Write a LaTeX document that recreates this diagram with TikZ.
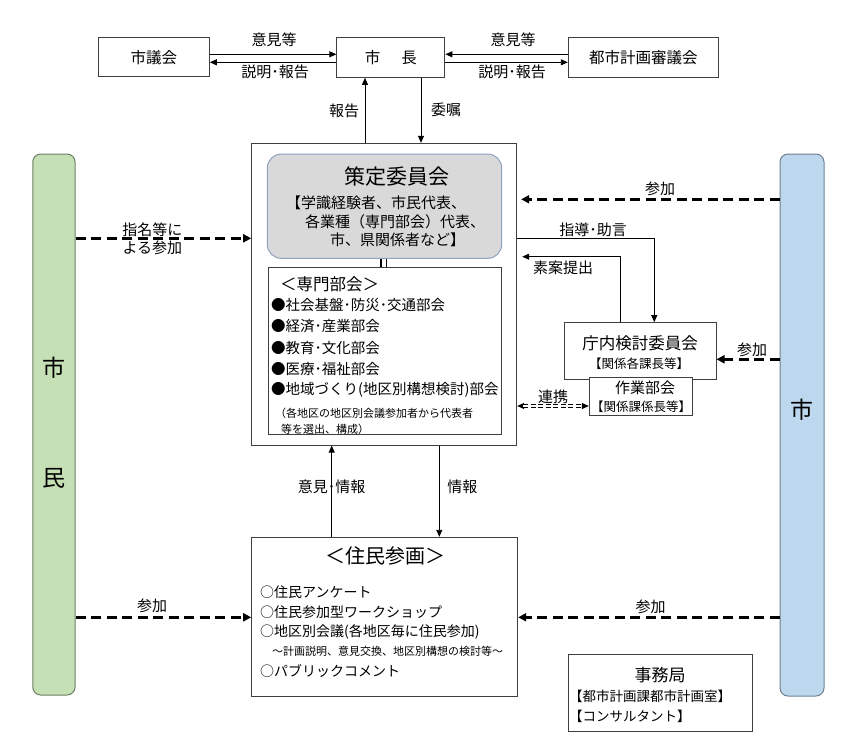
\documentclass[tikz,border=0pt]{standalone}
\usepackage{fontspec}
\setmainfont{Noto Sans CJK JP}
\usetikzlibrary{arrows.meta}
\definecolor{grnfill}{HTML}{C5E0B4}
\definecolor{grnline}{HTML}{6E7F66}
\definecolor{blufill}{HTML}{BDD7EE}
\definecolor{bluline}{HTML}{6F7F90}
\definecolor{gryfill}{HTML}{D9D9D9}
\definecolor{gryline}{HTML}{8FA3BF}
\definecolor{boxline}{HTML}{3F3F3F}
\begin{document}
\begin{tikzpicture}[x=1pt,y=-1pt,
  rbox/.style={draw=boxline, line width=1pt, inner sep=0pt, fill=white},
  lbl/.style={inner sep=0pt, font=\fontsize{15}{15}\selectfont},
  txt/.style={inner sep=0pt, anchor=west, font=\fontsize{14.5}{15}\selectfont},
  small/.style={inner sep=0pt, anchor=west, font=\fontsize{11}{12}\selectfont},
  arr/.style={-{Triangle[length=7pt,width=6pt]}, line width=0.9pt},
  darr/.style={-{Triangle[length=8pt,width=8pt]}, line width=2.6pt, dash pattern=on 10pt off 5.5pt}]
\useasboundingbox (0,0) rectangle (864,750);

% top boxes
\node[rbox, minimum width=111pt, minimum height=39pt, font=\fontsize{15.5}{16}\selectfont] (shigikai) at (153.8,57.2) {市議会};
\node[rbox, minimum width=108pt, minimum height=39.6pt, font=\fontsize{15.5}{16}\selectfont] (shicho) at (390.9,57.5) {市\hspace{21pt}長};
\node[rbox, minimum width=150pt, minimum height=39.6pt, font=\fontsize{15.5}{16}\selectfont] (toshi) at (643.3,57.5) {都市計画審議会};

\draw[arr] (shigikai.east |- 0,54.3) -- (shicho.west |- 0,54.3);
\draw[arr] (shicho.west |- 0,62.3) -- (shigikai.east |- 0,62.3);
\draw[arr] (toshi.west |- 0,54.3) -- (shicho.east |- 0,54.3);
\draw[arr] (shicho.east |- 0,62.3) -- (toshi.west |- 0,62.3);
\node[lbl] (l1) at (274,40) {意見等};
\node[lbl] (l2) at (275,71.7) {説明･報告};
\node[lbl] (l3) at (513,40) {意見等};
\node[lbl] (l4) at (512,71.7) {説明･報告};

% outer box
\node[rbox, minimum width=265pt, minimum height=301.7pt] (outer) at (384.2,294.2) {};
\draw[arr] (outer.north -| 365,0) -- (shicho.south -| 365,0);
\draw[arr] (shicho.south -| 421,0) -- (outer.north -| 421,0);
\node[lbl] (l5) at (344,111) {報告};
\node[lbl] (l6) at (446,110) {委嘱};

% gray committee box
\node[draw=gryline, line width=1pt, fill=gryfill, rounded corners=14pt, minimum width=234.4pt, minimum height=104.3pt, inner sep=0pt] (gray) at (384.5,206.2) {};
\node[inner sep=0pt, font=\fontsize{21}{22}\selectfont] (gt) at (396.7,177) {策定委員会};
\node[txt, font=\fontsize{15}{16}\selectfont] (g1) at (286,203) {【学識経験者、市民代表、};
\node[txt, font=\fontsize{15}{16}\selectfont] (g2) at (305,221.7) {各業種（専門部会）代表、};
\node[txt, font=\fontsize{15}{16}\selectfont] (g3) at (330,240) {市、県関係者など】};

% senmon bukai box
\node[rbox, minimum width=232.7pt, minimum height=166.6pt] (senmon) at (384.7,351) {};
\draw[line width=1.8pt] (gray.south -| 381,0) -- (senmon.north -| 381,0);
\draw[line width=1.8pt] (gray.south -| 386.5,0) -- (senmon.north -| 386.5,0);
\node[txt, font=\fontsize{16.5}{17}\selectfont] (st) at (280,284) {＜専門部会＞};
\node[txt] (s1) at (271,304.5) {●社会基盤･防災･交通部会};
\node[txt] (s2) at (271,326) {●経済･産業部会};
\node[txt] (s3) at (271,347.5) {●教育･文化部会};
\node[txt] (s4) at (271,369) {●医療･福祉部会};
\node[txt] (s5) at (271,390) {●地域づくり(地区別構想検討)部会};
\node[small] (s6) at (275,413.5) {（各地区の地区別会議参加者から代表者};
\node[small] (s7) at (281,429) {等を選出、構成）};

% side bars
\node[draw=grnline, line width=1pt, fill=grnfill, rounded corners=8pt, minimum width=42.3pt, minimum height=541pt, inner sep=0pt] (shimin) at (53.9,424.5) {};
\node[inner sep=0pt, font=\fontsize{23}{24}\selectfont] (m1) at (53.9,368) {市};
\node[inner sep=0pt, font=\fontsize{23}{24}\selectfont] (m2) at (53.9,478.3) {民};
\node[draw=bluline, line width=1pt, fill=blufill, rounded corners=8pt, minimum width=44pt, minimum height=542pt, inner sep=0pt] (shi) at (802,425) {};
\node[inner sep=0pt, font=\fontsize{23}{24}\selectfont] (c1) at (801.5,410) {市};

% dashed participation arrows
\draw[darr] (shimin.east |- 0,238.3) -- (outer.west |- 0,238.3);
\node[lbl] (p1) at (152.3,229.3) {指名等に};
\node[lbl] (p2) at (152.3,248.3) {よる参加};
\draw[darr, shorten >=4pt] (shi.west |- 0,199.3) -- (outer.east |- 0,199.3);
\node[lbl] (p3) at (660,189.3) {参加};

% chonai boxes
\node[rbox, minimum width=152pt, minimum height=57.3pt] (chonai) at (640,351.3) {};
\node[inner sep=0pt, font=\fontsize{16.5}{17}\selectfont] (ct) at (640,343) {庁内検討委員会};
\node[inner sep=0pt, font=\fontsize{12.5}{13}\selectfont] (cs) at (639,363.3) {【関係各課長等】};
\node[rbox, minimum width=103.4pt, minimum height=38pt] (sagyo) at (641,396.7) {};
\node[inner sep=0pt, font=\fontsize{15}{16}\selectfont] (wt) at (645,388.3) {作業部会};
\node[inner sep=0pt, font=\fontsize{12.5}{13}\selectfont] (ws) at (641,406.7) {【関係課係長等】};

\draw[darr] (shi.west |- 0,359.3) -- (chonai.east |- 0,359.3);
\node[lbl] (p4) at (752,350) {参加};

\draw[arr] (outer.east |- 0,238.3) -| (chonai.north -| 654.3,0);
\node[lbl] (a1) at (593,229.5) {指導･助言};
\draw[arr, shorten >=5pt] (chonai.north -| 620.7,0) |- (outer.east |- 0,256.7);
\node[lbl] (a2) at (563,268) {素案提出};

% renkei
\draw[{Triangle[length=7pt,width=6pt]}-{Triangle[length=7pt,width=6pt]}, line width=0.8pt, dash pattern=on 0pt off 300pt] (outer.east |- 0,406) -- (sagyo.west |- 0,406);
\draw[line width=0.6pt, double=white, double distance=2.2pt, dash pattern=on 5pt off 2.5pt, shorten <=6pt, shorten >=6pt] (outer.east |- 0,406) -- (sagyo.west |- 0,406);
\node[lbl] (a3) at (553,396.7) {連携};

% jumin sankaku
\node[rbox, minimum width=266pt, minimum height=159.4pt] (jumin) at (384.7,617) {};
\draw[arr] (jumin.north -| 331.7,0) -- (outer.south -| 331.7,0);
\draw[arr] (outer.south -| 439.3,0) -- (jumin.north -| 439.3,0);
\node[lbl] (b1) at (331.7,486.7) {意見･情報};
\node[lbl] (b2) at (462.3,486.7) {情報};
\node[inner sep=0pt, font=\fontsize{20}{21}\selectfont] (jt) at (385,556) {＜住民参画＞};
\node[txt, font=\fontsize{14}{15}\selectfont] (j1) at (260,592.5) {○住民アンケート};
\node[txt, font=\fontsize{14}{15}\selectfont] (j2) at (260,612.3) {○住民参加型ワークショップ};
\node[txt, font=\fontsize{14}{15}\selectfont] (j3) at (260,631.7) {○地区別会議(各地区毎に住民参加)};
\node[small] (j4) at (272,651.7) {～計画説明、意見交換、地区別構想の検討等～};
\node[txt, font=\fontsize{14}{15}\selectfont] (j5) at (260,671.5) {○パブリックコメント};

\draw[darr] (shimin.east |- 0,617.3) -- (jumin.west |- 0,617.3);
\node[lbl] (p5) at (152,606) {参加};
\draw[darr] (shi.west |- 0,617.3) -- (jumin.east |- 0,617.3);
\node[lbl] (p6) at (650.7,606.7) {参加};

% jimukyoku
\node[rbox, minimum width=183.7pt, minimum height=76.7pt] (jimu) at (660.8,693.3) {};
\node[inner sep=0pt, font=\fontsize{17}{18}\selectfont] (kt) at (660,675) {事務局};
\node[small, font=\fontsize{13.5}{14}\selectfont] (k1) at (569,696.7) {【都市計画課都市計画室】};
\node[small, font=\fontsize{13.5}{14}\selectfont] (k2) at (569,716.7) {【コンサルタント】};
\end{tikzpicture}
\end{document}
